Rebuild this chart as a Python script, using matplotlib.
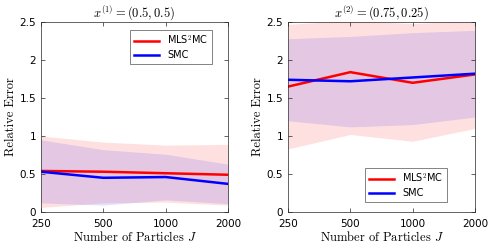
import numpy as np
import matplotlib.pyplot as plt
from matplotlib.ticker import FixedLocator, NullLocator, FixedFormatter

plt.rcParams['mathtext.fontset'] = 'cm'
plt.rcParams['font.family'] = 'DejaVu Sans'

# number of particles J
particles = [250, 500, 1000, 2000]

# left panel x^(1) = (0.5, 0.5)
mls_mean_1 = [0.54, 0.53, 0.51, 0.49]
mls_hi_1 = [1.00, 0.92, 0.88, 0.89]
mls_lo_1 = [0.06, 0.12, 0.13, 0.09]
smc_mean_1 = [0.53, 0.45, 0.46, 0.37]
smc_hi_1 = [0.95, 0.82, 0.76, 0.63]
smc_lo_1 = [0.12, 0.09, 0.16, 0.11]

# right panel x^(2) = (0.75, 0.25)
mls_mean_2 = [1.65, 1.84, 1.70, 1.81]
mls_hi_2 = [2.47, 2.52, 2.48, 2.52]
mls_lo_2 = [0.83, 1.02, 0.93, 1.10]
smc_mean_2 = [1.74, 1.72, 1.77, 1.82]
smc_hi_2 = [2.28, 2.31, 2.36, 2.39]
smc_lo_2 = [1.20, 1.12, 1.15, 1.25]

titles = [r'$x^{(1)} = (0.5, 0.5)$', r'$x^{(2)} = (0.75, 0.25)$']
legend_loc = ['upper right', 'lower right']
legend_anchor = [(0.914, 0.958), (0.85, 0.053)]

fig = plt.figure(figsize=(4.91, 2.48), dpi=100)
ax1 = fig.add_axes([41 / 491, 36 / 248, 187 / 491, 190 / 248])
ax2 = fig.add_axes([288 / 491, 36 / 248, 187 / 491, 190 / 248])

panels = [
    (ax1, mls_mean_1, mls_lo_1, mls_hi_1, smc_mean_1, smc_lo_1, smc_hi_1),
    (ax2, mls_mean_2, mls_lo_2, mls_hi_2, smc_mean_2, smc_lo_2, smc_hi_2),
]

for i, (ax, mm, ml, mh, sm, sl, sh) in enumerate(panels):
    ax.fill_between(particles, ml, mh, color='red', alpha=0.12, linewidth=0)
    ax.fill_between(particles, sl, sh, color='blue', alpha=0.11, linewidth=0)
    ax.plot(particles, mm, color='red', lw=1.8, label=r'MLS$^2$MC')
    ax.plot(particles, sm, color='blue', lw=1.8, label='SMC')

    ax.set_xscale('log', base=2)
    ax.set_xlim(250, 2000)
    ax.xaxis.set_major_locator(FixedLocator(particles))
    ax.xaxis.set_major_formatter(FixedFormatter([str(p) for p in particles]))
    ax.xaxis.set_minor_locator(NullLocator())
    ax.set_ylim(0, 2.5)
    ax.set_yticks([0, 0.5, 1, 1.5, 2, 2.5])
    ax.set_yticklabels(['0', '0.5', '1', '1.5', '2', '2.5'])
    ax.tick_params(direction='in', top=True, right=True, labelsize=7.5,
                   length=3, width=0.5, colors='#262626', labelcolor='black')
    ax.tick_params(axis='x', pad=5)
    for s in ax.spines.values():
        s.set_linewidth(0.5)
        s.set_color('#262626')

    ax.set_title(titles[i], fontsize=9, pad=3)
    ax.set_xlabel(r'Number of Particles $J$', fontfamily='cmr10', fontsize=9, labelpad=1)
    ax.set_ylabel('Relative Error', fontfamily='cmr10', fontsize=9, labelpad=2)

    leg = ax.legend(loc=legend_loc[i], fontsize=7, fancybox=False, edgecolor='#262626',
                    handlelength=2.6, borderpad=0.4, labelspacing=0.3,
                    borderaxespad=0, bbox_to_anchor=legend_anchor[i])
    leg.get_frame().set_linewidth(0.5)

fig.savefig('out.png', dpi=100)
